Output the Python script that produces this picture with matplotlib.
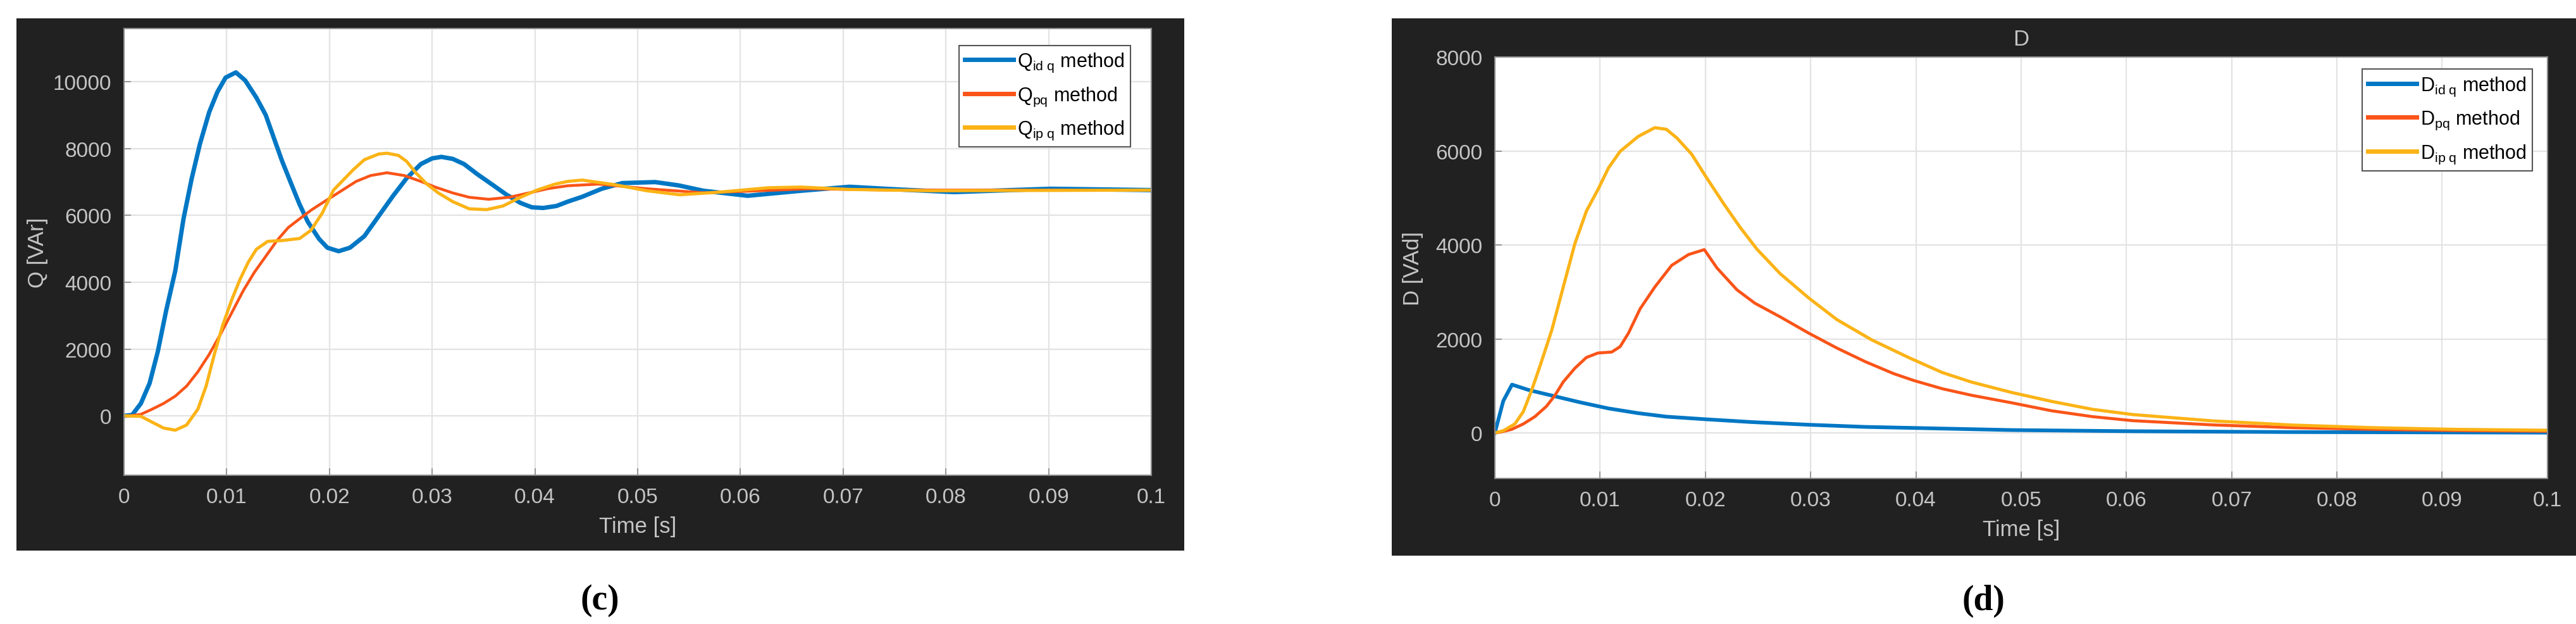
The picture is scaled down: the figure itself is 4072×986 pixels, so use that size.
import matplotlib
matplotlib.use('Agg')
import matplotlib.pyplot as plt
from matplotlib.patches import Rectangle
import numpy as np

plt.rcParams['font.family'] = ['Liberation Sans', 'DejaVu Sans']
plt.rcParams['mathtext.fontset'] = 'custom'
plt.rcParams['mathtext.rm'] = 'Liberation Sans'
plt.rcParams['mathtext.it'] = 'Liberation Sans'

# ---- panel (c): Q [VAr] ----
q_idq_t = [0, 0.0008, 0.00165, 0.0025, 0.0033, 0.0041, 0.005, 0.0058, 0.0066, 0.0074, 0.0083, 0.0091,
           0.0099, 0.0109, 0.0118, 0.0129, 0.0138, 0.0146, 0.0154, 0.0163, 0.0171, 0.0179, 0.019,
           0.0198, 0.0209, 0.022, 0.0234, 0.0248, 0.0262, 0.0275, 0.0289, 0.03, 0.0309, 0.032, 0.0331,
           0.0344, 0.0358, 0.0372, 0.0386, 0.0397, 0.0408, 0.0421, 0.0432, 0.0446, 0.0465, 0.0485,
           0.0517, 0.054, 0.0564, 0.0607, 0.0659, 0.0706, 0.0753, 0.0808, 0.0863, 0.0902, 0.1]
q_idq = [0, 26, 370, 975, 1925, 3135, 4345, 5900, 7110, 8145, 9095, 9700,
         10130, 10285, 10045, 9525, 9010, 8315, 7625, 6935, 6330, 5810, 5295,
         5035, 4930, 5035, 5380, 5985, 6590, 7110, 7540, 7710, 7755, 7695, 7540,
         7235, 6935, 6630, 6375, 6245, 6225, 6285, 6415, 6560, 6800, 6970,
         7000, 6900, 6740, 6590, 6740, 6860, 6780, 6700, 6760, 6800, 6760]

q_pq_t = [0, 0.00055, 0.00165, 0.00275, 0.00386, 0.005, 0.0061, 0.0072, 0.0083, 0.0094, 0.0105,
          0.0116, 0.0127, 0.0138, 0.0149, 0.016, 0.0171, 0.0182, 0.0193, 0.0204, 0.0215, 0.0226,
          0.024, 0.0256, 0.0273, 0.0289, 0.0303, 0.032, 0.0336, 0.0355, 0.0375, 0.0394, 0.0413,
          0.0432, 0.0462, 0.0509, 0.0564, 0.0619, 0.0666, 0.0745, 0.1]
q_pq = [0, 0, 45, 200, 370, 590, 890, 1320, 1840, 2445, 3090,
        3740, 4300, 4775, 5250, 5640, 5900, 6155, 6375, 6590, 6805, 7020,
        7195, 7280, 7195, 7020, 6850, 6675, 6545, 6485, 6545, 6675, 6805,
        6890, 6940, 6800, 6680, 6740, 6800, 6760, 6760]

q_ipq_t = [0, 0.00165, 0.00275, 0.00386, 0.005, 0.0061, 0.0072, 0.008, 0.0088, 0.0096, 0.0105,
           0.0113, 0.0121, 0.0129, 0.014, 0.0154, 0.0171, 0.0182, 0.0193, 0.0204, 0.0215, 0.0223,
           0.0234, 0.0248, 0.0256, 0.0267, 0.0275, 0.0284, 0.0295, 0.0306, 0.032, 0.0336, 0.0353,
           0.0369, 0.0386, 0.0402, 0.0419, 0.0432, 0.0446, 0.0478, 0.0509, 0.0541, 0.058, 0.0627,
           0.0659, 0.0706, 0.0785, 0.1]
q_ipq = [0, -15, -190, -365, -430, -275, 200, 890, 1840, 2700, 3480,
         4085, 4600, 4990, 5225, 5250, 5310, 5555, 6070, 6760, 7110, 7365,
         7670, 7840, 7865, 7800, 7625, 7280, 6935, 6675, 6415, 6200, 6175,
         6285, 6545, 6760, 6935, 7020, 7060, 6920, 6740, 6620, 6700, 6830,
         6850, 6780, 6740, 6760]

# ---- panel (d): D [VAd] ----
d_idq_t = [0, 0.0008, 0.00163, 0.00325, 0.0054, 0.0081, 0.0108, 0.0136, 0.0163, 0.02, 0.0244,
           0.0298, 0.0352, 0.0425, 0.0491, 0.0606, 0.0759, 0.1]
d_idq = [0, 680, 1027, 910, 795, 650, 520, 420, 345, 290, 230,
         173, 127, 92, 60, 35, 17, 5]

d_pq_t = [0, 0.00054, 0.0016, 0.0027, 0.0038, 0.0049, 0.0057, 0.0065, 0.0076, 0.0087, 0.0098,
          0.0111, 0.0119, 0.0127, 0.0138, 0.0152, 0.0168, 0.0184, 0.0199, 0.0211, 0.023, 0.0247,
          0.0271, 0.0298, 0.0325, 0.0352, 0.0379, 0.0398, 0.0425, 0.0453, 0.0491, 0.0529, 0.0568,
          0.0606, 0.0682, 0.0759, 0.0835, 0.0912, 0.1]
d_pq = [0, 17, 75, 190, 345, 565, 795, 1085, 1375, 1605, 1700,
        1720, 1835, 2125, 2640, 3105, 3565, 3795, 3900, 3510, 3045, 2760,
        2470, 2125, 1805, 1515, 1260, 1115, 940, 800, 640, 470, 345,
        260, 170, 110, 75, 50, 35]

d_ipq_t = [0, 0.0008, 0.0019, 0.0027, 0.0035, 0.0043, 0.0054, 0.0065, 0.0076, 0.0087, 0.0098,
           0.0108, 0.0119, 0.0136, 0.0152, 0.0163, 0.0173, 0.0187, 0.02, 0.0217, 0.0233, 0.0249,
           0.0271, 0.0298, 0.0325, 0.0358, 0.0393, 0.0425, 0.0453, 0.0491, 0.0529, 0.0568, 0.0606,
           0.0682, 0.0759, 0.0835, 0.0912, 0.1]
d_ipq = [0, 45, 190, 450, 910, 1430, 2180, 3105, 4025, 4720, 5180,
         5640, 5990, 6305, 6495, 6460, 6275, 5930, 5470, 4890, 4375, 3910,
         3390, 2875, 2410, 1980, 1605, 1285, 1080, 860, 670, 500, 390,
         255, 165, 110, 75, 55]

x_ticks = [0, 0.01, 0.02, 0.03, 0.04, 0.05, 0.06, 0.07, 0.08, 0.09, 0.1]
x_ticklabels = ['0', '0.01', '0.02', '0.03', '0.04', '0.05', '0.06', '0.07', '0.08', '0.09', '0.1']

blue = '#0077c4'
red = '#fa5418'
yellow = '#fbb316'
dark = '#212121'
txt = '#c4c4c4'

fig = plt.figure(figsize=(40.72, 9.87), dpi=100)
fig.patch.set_facecolor('white')

# dark MATLAB-style backgrounds
fig.patches.append(Rectangle((0.0064, 0.1175), 0.4533, 0.852, transform=fig.transFigure,
                             facecolor=dark, edgecolor='none', zorder=-5))
fig.patches.append(Rectangle((0.5403, 0.1094), 0.4597, 0.860, transform=fig.transFigure,
                             facecolor=dark, edgecolor='none', zorder=-5))

ax1 = fig.add_axes([0.0481, 0.2381, 0.3989, 0.7153])
ax2 = fig.add_axes([0.5803, 0.233, 0.4086, 0.6748])


def style(ax):
    ax.set_facecolor('white')
    ax.set_xlim(0, 0.1)
    ax.set_xticks(x_ticks)
    ax.set_xticklabels(x_ticklabels)
    ax.grid(True, color='#e3e3e3', linewidth=1.6)
    ax.set_axisbelow(True)
    for s in ax.spines.values():
        s.set_color('#8a8a8a')
        s.set_linewidth(1.5)
    ax.tick_params(direction='in', colors='#8a8a8a', labelcolor=txt, labelsize=24,
                   length=8, width=1.2, pad=14)
    ax.set_xlabel('Time [s]', color=txt, fontsize=25, labelpad=10)


def legend(ax, anchor):
    leg = ax.legend(loc='upper right', bbox_to_anchor=anchor, fontsize=22, frameon=True,
                    fancybox=False, framealpha=1, edgecolor='#555555', handlelength=2.5,
                    labelspacing=0.6, borderpad=0.3, handletextpad=0.2, borderaxespad=0.3)
    leg.get_frame().set_linewidth(1.5)
    for line in leg.get_lines():
        line.set_linewidth(5)


ax1.plot(q_idq_t, q_idq, color=blue, lw=5, label=r'$\mathregular{Q_{id\ q}}$ method')
ax1.plot(q_pq_t, q_pq, color=red, lw=3.2, label=r'$\mathregular{Q_{pq}}$ method')
ax1.plot(q_ipq_t, q_ipq, color=yellow, lw=3.6, label=r'$\mathregular{Q_{ip\ q}}$ method')
style(ax1)
ax1.set_ylim(-1780, 11600)
ax1.set_yticks([0, 2000, 4000, 6000, 8000, 10000])
ax1.set_ylabel('Q [VAr]', color=txt, fontsize=25, labelpad=6)
legend(ax1, (0.985, 0.975))

ax2.plot(d_idq_t, d_idq, color=blue, lw=4.2, label=r'$\mathregular{D_{id\ q}}$ method')
ax2.plot(d_pq_t, d_pq, color=red, lw=3.4, label=r'$\mathregular{D_{pq}}$ method')
ax2.plot(d_ipq_t, d_ipq, color=yellow, lw=3.6, label=r'$\mathregular{D_{ip\ q}}$ method')
style(ax2)
ax2.set_ylim(-970, 8000)
ax2.set_yticks([0, 2000, 4000, 6000, 8000])
ax2.set_ylabel('D [VAd]', color=txt, fontsize=25, labelpad=14)
ax2.set_title('D', color=txt, fontsize=25, pad=14)
legend(ax2, (0.991, 0.985))

fig.text(0.233, 0.038, '(c)', ha='center', va='center', fontsize=40, fontweight='bold',
         family='Liberation Serif')
fig.text(0.770, 0.038, '(d)', ha='center', va='center', fontsize=40, fontweight='bold',
         family='Liberation Serif')

fig.savefig('out.png', dpi=100)
